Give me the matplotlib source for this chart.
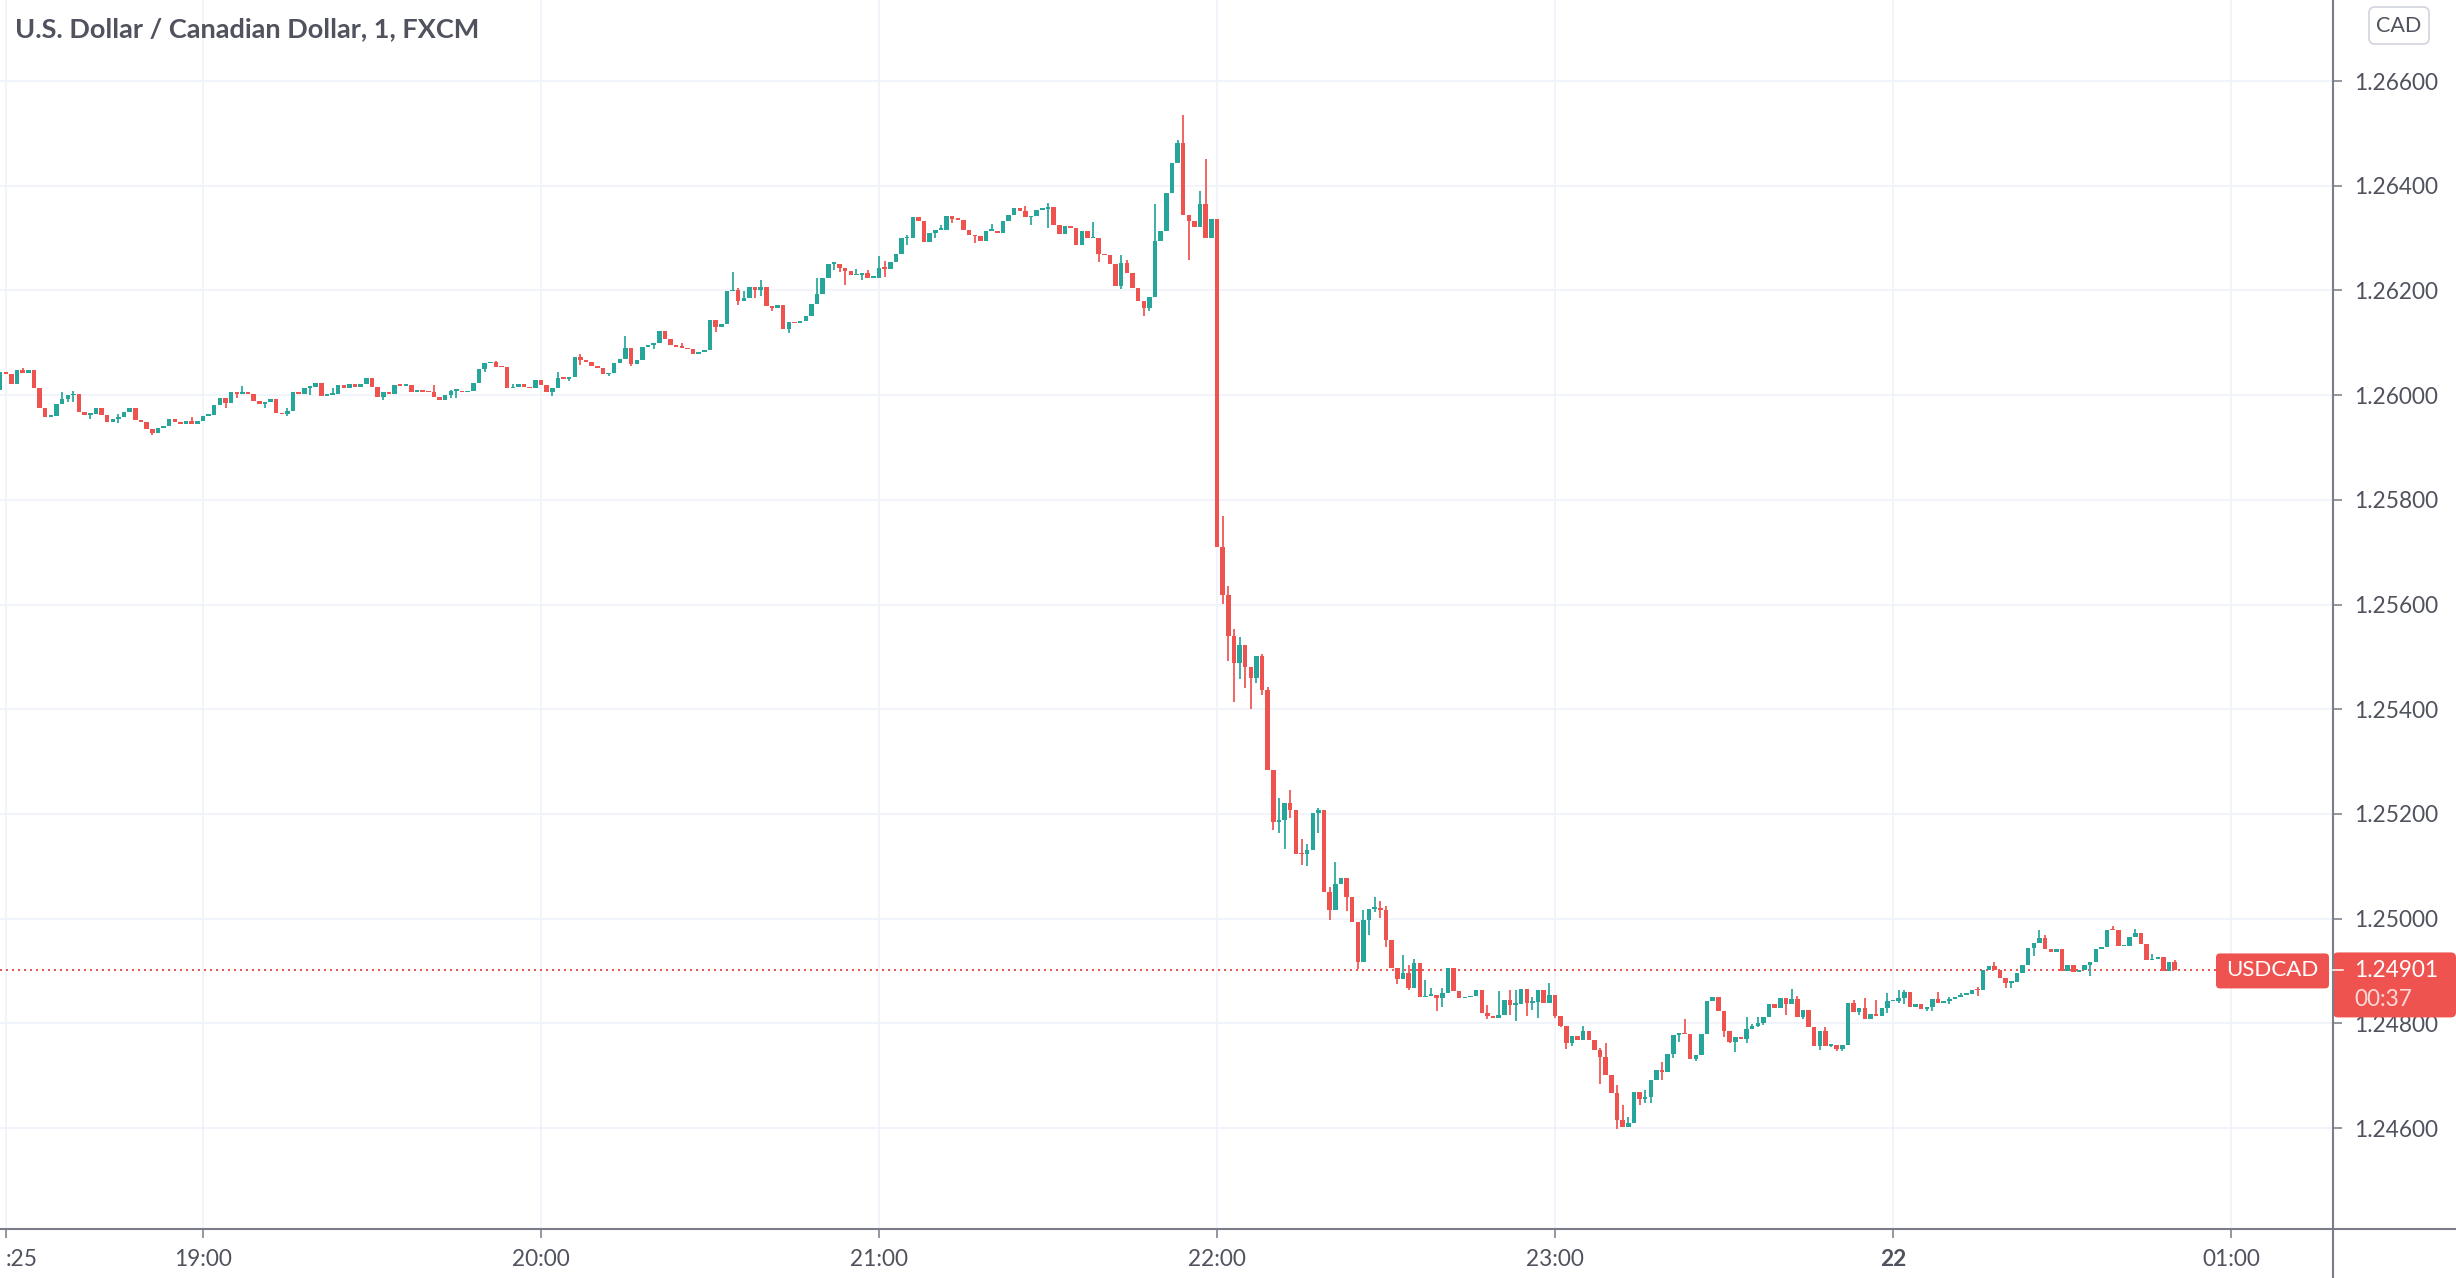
import matplotlib
matplotlib.use("Agg")
import matplotlib.pyplot as plt
import matplotlib.transforms as mtransforms
from matplotlib.patches import FancyBboxPatch
from matplotlib.lines import Line2D

plt.rcParams['font.family'] = ['Lato', 'DejaVu Sans']

W, H = 2456, 1278
UP, DOWN = '#26a69a', '#ef5350'
TXT = '#50535e'

# 1-minute USDCAD candles; minute 0 = 18:25, minute -1 = 18:24 (cut at the left edge)
first_minute = -1
first_open = 1.26010
closes = [
    1.26045, 1.26041, 1.26021, 1.26047, 1.26043, 1.26047, 1.26013, 1.25976, 1.25959, 1.25961,
    1.25983, 1.25992, 1.26000, 1.26003, 1.25968, 1.25962, 1.25963, 1.25975, 1.25962, 1.25949,
    1.25954, 1.25959, 1.25968, 1.25976, 1.25952, 1.25948, 1.25935, 1.25927, 1.25938, 1.25941,
    1.25955, 1.25948, 1.25944, 1.25950, 1.25944, 1.25950, 1.25961, 1.25962, 1.25982, 1.25995,
    1.25984, 1.26006, 1.26003, 1.26006, 1.26003, 1.25989, 1.25983, 1.25987, 1.25992, 1.25965,
    1.25963, 1.25969, 1.26006, 1.26003, 1.26014, 1.26015, 1.26024, 1.25999, 1.26001, 1.26002,
    1.26019, 1.26013, 1.26022, 1.26015, 1.26022, 1.26033, 1.26016, 1.25997, 1.26006, 1.26003,
    1.26019, 1.26018, 1.26020, 1.26006, 1.26007, 1.26006, 1.26005, 1.25997, 1.25990, 1.26000,
    1.26008, 1.26008, 1.26005, 1.26008, 1.26024, 1.26050, 1.26061, 1.26063, 1.26054, 1.26053,
    1.26013, 1.26016, 1.26022, 1.26016, 1.26013, 1.26028, 1.26019, 1.26005, 1.26014, 1.26033,
    1.26031, 1.26035, 1.26072, 1.26067, 1.26063, 1.26056, 1.26052, 1.26040, 1.26043, 1.26061,
    1.26069, 1.26090, 1.26059, 1.26067, 1.26091, 1.26095, 1.26100, 1.26123, 1.26107, 1.26096,
    1.26091, 1.26090, 1.26088, 1.26078, 1.26082, 1.26086, 1.26143, 1.26131, 1.26136, 1.26198,
    1.26200, 1.26179, 1.26185, 1.26206, 1.26201, 1.26206, 1.26171, 1.26166, 1.26173, 1.26127,
    1.26139, 1.26137, 1.26141, 1.26151, 1.26174, 1.26194, 1.26223, 1.26251, 1.26251, 1.26243,
    1.26237, 1.26229, 1.26229, 1.26233, 1.26224, 1.26224, 1.26243, 1.26241, 1.26255, 1.26270,
    1.26300, 1.26301, 1.26341, 1.26332, 1.26293, 1.26309, 1.26316, 1.26316, 1.26343, 1.26337,
    1.26335, 1.26316, 1.26306, 1.26303, 1.26295, 1.26314, 1.26314, 1.26309, 1.26332, 1.26344,
    1.26357, 1.26351, 1.26340, 1.26343, 1.26354, 1.26356, 1.26359, 1.26325, 1.26308, 1.26323,
    1.26320, 1.26287, 1.26313, 1.26300, 1.26301, 1.26270, 1.26267, 1.26250, 1.26209, 1.26253,
    1.26233, 1.26205, 1.26180, 1.26167, 1.26187, 1.26295, 1.26313, 1.26386, 1.26444, 1.26481,
    1.26344, 1.26332, 1.26321, 1.26365, 1.26301, 1.26337, 1.25709, 1.25618, 1.25540, 1.25488,
    1.25523, 1.25480, 1.25459, 1.25501, 1.25437, 1.25284, 1.25184, 1.25188, 1.25220, 1.25207,
    1.25124, 1.25123, 1.25131, 1.25202, 1.25207, 1.25050, 1.25016, 1.25067, 1.25078, 1.25041,
    1.24993, 1.24918, 1.24998, 1.25019, 1.25020, 1.25016, 1.24960, 1.24906, 1.24885, 1.24896,
    1.24867, 1.24915, 1.24850, 1.24853, 1.24855, 1.24848, 1.24858, 1.24906, 1.24861, 1.24848,
    1.24850, 1.24853, 1.24863, 1.24819, 1.24813, 1.24810, 1.24816, 1.24845, 1.24835, 1.24837,
    1.24865, 1.24839, 1.24840, 1.24864, 1.24839, 1.24854, 1.24814, 1.24795, 1.24763, 1.24776,
    1.24768, 1.24786, 1.24769, 1.24749, 1.24736, 1.24701, 1.24667, 1.24615, 1.24601, 1.24610,
    1.24669, 1.24656, 1.24659, 1.24691, 1.24711, 1.24707, 1.24741, 1.24778, 1.24780, 1.24779,
    1.24732, 1.24739, 1.24779, 1.24842, 1.24850, 1.24824, 1.24785, 1.24765, 1.24773, 1.24770,
    1.24789, 1.24795, 1.24800, 1.24812, 1.24836, 1.24830, 1.24848, 1.24836, 1.24846, 1.24812,
    1.24826, 1.24792, 1.24757, 1.24786, 1.24757, 1.24759, 1.24750, 1.24759, 1.24838, 1.24822,
    1.24829, 1.24808, 1.24818, 1.24814, 1.24829, 1.24842, 1.24843, 1.24848, 1.24859, 1.24832,
    1.24836, 1.24828, 1.24831, 1.24847, 1.24839, 1.24843, 1.24847, 1.24850, 1.24855, 1.24856,
    1.24864, 1.24863, 1.24901, 1.24909, 1.24901, 1.24887, 1.24877, 1.24879, 1.24896, 1.24911,
    1.24943, 1.24953, 1.24962, 1.24941, 1.24936, 1.24941, 1.24900, 1.24911, 1.24898, 1.24901,
    1.24911, 1.24917, 1.24941, 1.24945, 1.24979, 1.24978, 1.24947, 1.24947, 1.24965, 1.24973,
    1.24952, 1.24920, 1.24923, 1.24927, 1.24900, 1.24918, 1.24901,
]

# wick ends that reach beyond the candle body (minute -> price)
wick_highs = {
    3: 1.26052, 10: 1.26005, 12: 1.26008, 20: 1.25963, 33: 1.25959, 42: 1.26017, 50: 1.25976,
    58: 1.26014, 76: 1.26019, 79: 1.26010, 87: 1.26065, 90: 1.26022, 98: 1.26045, 102: 1.26078,
    110: 1.26112, 120: 1.26099, 129: 1.26235, 130: 1.26205, 131: 1.26198, 134: 1.26220,
    144: 1.26224, 151: 1.26241, 153: 1.26239, 155: 1.26266, 156: 1.26256, 160: 1.26306,
    166: 1.26325, 175: 1.26327, 181: 1.26362, 185: 1.26367, 193: 1.26330, 198: 1.26268,
    199: 1.26259, 204: 1.26365, 208: 1.26487, 209: 1.26536, 212: 1.26389, 213: 1.26451,
    216: 1.25769, 217: 1.25635, 218: 1.25553, 219: 1.25537, 223: 1.25505, 224: 1.25442,
    226: 1.25231, 228: 1.25246, 230: 1.25152, 231: 1.25142, 233: 1.25212, 235: 1.25061,
    236: 1.25108, 241: 1.25017, 243: 1.25041, 244: 1.25033, 245: 1.25025, 248: 1.24931,
    249: 1.24912, 250: 1.24922, 252: 1.24883, 253: 1.24867, 255: 1.24867, 263: 1.24835,
    265: 1.24861, 267: 1.24864, 268: 1.24864, 271: 1.24851, 274: 1.24877, 280: 1.24795,
    283: 1.24752, 284: 1.24763, 286: 1.24682, 287: 1.24643, 288: 1.24621, 291: 1.24672,
    294: 1.24727, 298: 1.24808, 309: 1.24812, 310: 1.24799, 311: 1.24812, 317: 1.24865,
    318: 1.24852, 323: 1.24792, 328: 1.24845, 330: 1.24848, 332: 1.24845, 334: 1.24858,
    336: 1.24863, 337: 1.24864, 343: 1.24859, 345: 1.24850, 347: 1.24858, 350: 1.24869,
    353: 1.24917, 361: 1.24979, 362: 1.24968, 374: 1.24985, 378: 1.24981, 381: 1.24932,
    385: 1.24921,
}
wick_lows = {
    11: 1.25987, 12: 1.25987, 15: 1.25955, 20: 1.25946, 26: 1.25924, 39: 1.25975, 41: 1.25994,
    46: 1.25975, 50: 1.25961, 54: 1.26000, 67: 1.25990, 79: 1.25995, 80: 1.25994, 85: 1.26045,
    97: 1.25999, 100: 1.26026, 102: 1.26058, 107: 1.26037, 111: 1.26056, 115: 1.26088,
    126: 1.26120, 130: 1.26173, 133: 1.26185, 134: 1.26189, 136: 1.26160, 139: 1.26118,
    147: 1.26239, 148: 1.26235, 149: 1.26210, 152: 1.26219, 156: 1.26226, 160: 1.26287,
    164: 1.26292, 165: 1.26301, 168: 1.26328, 172: 1.26290, 182: 1.26325, 185: 1.26320,
    194: 1.26255, 198: 1.26203, 202: 1.26151, 203: 1.26161, 210: 1.26258, 216: 1.25601,
    217: 1.25493, 218: 1.25413, 219: 1.25457, 220: 1.25440, 221: 1.25400, 222: 1.25450,
    223: 1.25427, 225: 1.25170, 226: 1.25164, 227: 1.25132, 228: 1.25193, 230: 1.25103,
    231: 1.25100, 233: 1.25164, 235: 1.24997, 238: 1.25014, 240: 1.24904, 242: 1.24969,
    243: 1.25012, 244: 1.25001, 245: 1.24945, 247: 1.24876, 249: 1.24863, 254: 1.24823,
    255: 1.24832, 263: 1.24808, 267: 1.24816, 268: 1.24805, 270: 1.24813, 271: 1.24826,
    272: 1.24810, 275: 1.24810, 276: 1.24792, 277: 1.24750, 278: 1.24757, 283: 1.24685,
    286: 1.24599, 290: 1.24643, 291: 1.24647, 292: 1.24648, 294: 1.24691, 296: 1.24733,
    297: 1.24765, 300: 1.24728, 305: 1.24774, 306: 1.24762, 307: 1.24746, 309: 1.24762,
    311: 1.24792, 312: 1.24797, 316: 1.24816, 319: 1.24808, 322: 1.24749, 324: 1.24754,
    325: 1.24747, 326: 1.24747, 329: 1.24816, 334: 1.24820, 336: 1.24838, 337: 1.24837,
    341: 1.24824, 342: 1.24824, 345: 1.24837, 350: 1.24853, 355: 1.24868, 356: 1.24868,
    360: 1.24928, 370: 1.24891,
}

time_ticks = [0, 35, 95, 155, 215, 275, 335, 395]
time_labels = [':25', '19:00', '20:00', '21:00', '22:00', '23:00', '22', '01:00']
price_ticks = [1.246, 1.248, 1.250, 1.252, 1.254, 1.256, 1.258, 1.260, 1.262, 1.264, 1.266]
title = 'U.S. Dollar / Canadian Dollar, 1, FXCM'
symbol = 'USDCAD'
countdown = '00:37'
currency = 'CAD'

minutes = list(range(first_minute, first_minute + len(closes)))
opens = [first_open] + closes[:-1]

fig = plt.figure(figsize=(W / 100, H / 100), dpi=100)
fig.patch.set_facecolor('white')
ax = fig.add_axes([0, 1 - 1229 / H, 2333 / W, 1229 / H])
ax.set_xlim(-1.03, 413.1)
ax.set_ylim(1.2440707, 1.2675473)
for s in ax.spines.values():
    s.set_visible(False)

ax.set_axisbelow(True)
ax.grid(True, color='#f0f3fa', lw=1.3)

px_price = (1.2675473 - 1.2440707) / 1229
colors = [UP if c >= o else DOWN for o, c in zip(opens, closes)]
highs = [max(o, c, wick_highs.get(m, 0)) for m, o, c in zip(minutes, opens, closes)]
lows = [min(o, c, wick_lows.get(m, 9)) for m, o, c in zip(minutes, opens, closes)]
ax.vlines(minutes, lows, highs, colors=colors, lw=1.25, zorder=2)
bottoms = [min(o, c) for o, c in zip(opens, closes)]
heights = [max(abs(c - o), px_price * 1.5) for o, c in zip(opens, closes)]
ax.bar(minutes, heights, bottom=bottoms, width=0.8, color=colors, linewidth=0, zorder=3)

# ticks and labels
ax.set_xticks(time_ticks)
ax.set_xticklabels(time_labels)
ax.set_yticks(price_ticks)
ax.set_yticklabels(['%.5f' % p for p in price_ticks])
ax.yaxis.tick_right()
ax.tick_params(axis='y', length=6.5, width=1.1, color='#787b86', pad=9,
               labelsize=16.3, labelcolor=TXT)
ax.tick_params(axis='x', length=6.5, width=1.1, color='#787b86', pad=8,
               labelsize=16.3, labelcolor=TXT)
for lab in ax.get_xticklabels():
    if lab.get_text() == '22':
        lab.set_fontweight('bold')
    if lab.get_text() == ':25':
        lab.set_horizontalalignment('left')

# scale separators
fig.add_artist(Line2D([2333 / W, 2333 / W], [0, 1], transform=fig.transFigure,
                      color='#7b7e89', lw=1.5))
fig.add_artist(Line2D([0, 1], [1 - 1229 / H, 1 - 1229 / H], transform=fig.transFigure,
                      color='#7b7e89', lw=1.5))

# title
fig.text(15 / W, 1 - 29 / H, title, fontsize=19.5, fontweight='bold', color=TXT,
         ha='left', va='center')

# last price line and labels
last = closes[-1]
ax.axhline(last, xmax=2216 / 2333, color=DOWN, lw=1.44, ls=(0, (1, 2)), zorder=1)
ident = mtransforms.IdentityTransform()
_, ly = ax.transData.transform((0, last))
fig.add_artist(FancyBboxPatch((2333, ly - 47), 123, 65,
                              boxstyle='round,pad=0,rounding_size=5',
                              fc=DOWN, ec='none', transform=ident))
fig.add_artist(Line2D([2333, 2343], [ly, ly], transform=ident, color='white', lw=1.1))
fig.text(2354, ly, '%.5f' % last, transform=ident, fontsize=16.3, color='white',
         ha='left', va='center')
fig.text(2354, ly - 29, countdown, transform=ident, fontsize=16.3, color='white',
         alpha=0.78, ha='left', va='center')
fig.add_artist(FancyBboxPatch((2216, ly - 18), 113, 35,
                              boxstyle='round,pad=0,rounding_size=4',
                              fc=DOWN, ec='none', transform=ident))
fig.text(2272, ly, symbol, transform=ident, fontsize=16, color='white',
         ha='center', va='center')

# currency badge
fig.add_artist(FancyBboxPatch((2369, H - 44), 60, 37,
                              boxstyle='round,pad=0,rounding_size=6',
                              fc='white', ec='#d1d4dc', lw=1.2, transform=ident))
fig.text(2399, H - 25.5, currency, transform=ident, fontsize=15.5, color=TXT,
         ha='center', va='center')

fig.savefig('out.png', dpi=100)
